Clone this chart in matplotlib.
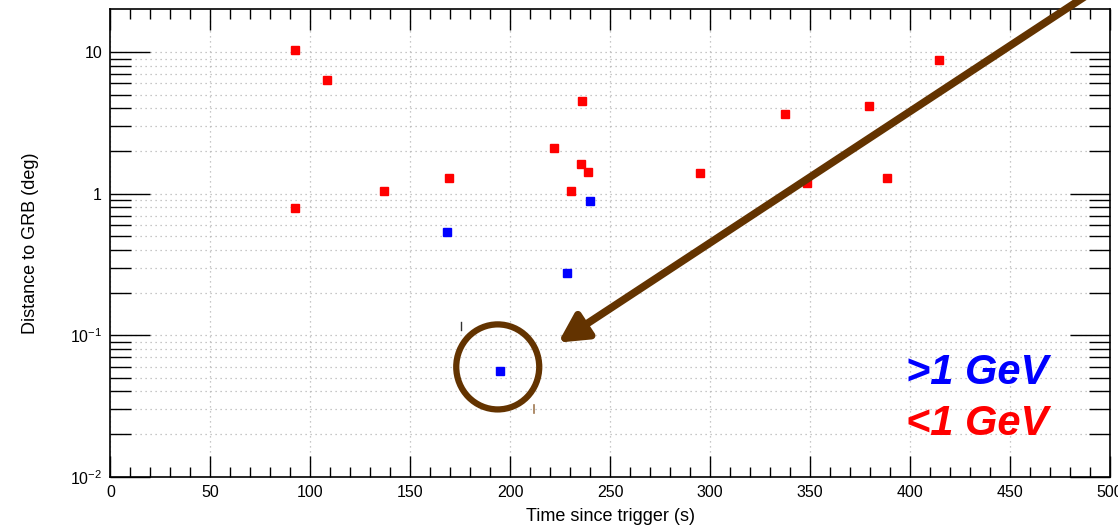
import matplotlib
matplotlib.use("Agg")
import matplotlib.pyplot as plt
from matplotlib.patches import Ellipse
from matplotlib.ticker import FixedLocator, MultipleLocator, NullFormatter, FuncFormatter

plt.rcParams['font.family'] = ['Liberation Sans', 'DejaVu Sans']

# photons below 1 GeV
t_low = [92.3, 108.2, 92.3, 137.0, 169.3, 221.8, 236.1, 235.2, 239.1, 230.4,
         294.8, 337.5, 348.3, 379.5, 388.5, 414.4]
d_low = [10.3, 6.4, 0.79, 1.05, 1.29, 2.09, 4.5, 1.63, 1.42, 1.05,
         1.39, 3.67, 1.19, 4.18, 1.28, 8.74]

# photons above 1 GeV
t_high = [168.5, 240.1, 228.6, 194.9]
d_high = [0.54, 0.88, 0.277, 0.0557]

x_ticks = [0, 50, 100, 150, 200, 250, 300, 350, 400, 450, 500]
y_ticks = [0.01, 0.1, 1, 10]
y_labels = {0.01: r'$\mathregular{10^{-2}}$', 0.1: r'$\mathregular{10^{-1}}$', 1: '1', 10: '10'}

fig = plt.figure(figsize=(11.18, 5.26), dpi=100)
ax = fig.add_axes([0.0987, 0.0937, 0.8942, 0.8883])
ax.set_yscale('log')
ax.set_xlim(0, 500)
ax.set_ylim(0.01, 20)

# grid: x at major ticks, y at every decade subdivision
ax.xaxis.set_major_locator(FixedLocator(x_ticks))
ax.xaxis.set_minor_locator(MultipleLocator(10))
ax.yaxis.set_major_locator(FixedLocator(y_ticks))
minor_y = [m * 10.0 ** e for e in (-2, -1, 0, 1) for m in range(2, 10) if m * 10.0 ** e < 20]
ax.yaxis.set_minor_locator(FixedLocator(minor_y))
ax.yaxis.set_major_formatter(FuncFormatter(lambda v, p: y_labels.get(round(v, 4), '')))
ax.yaxis.set_minor_formatter(NullFormatter())

grid_kw = dict(color='#b5b5b5', linestyle=(0, (1, 3)), linewidth=0.9)
ax.grid(True, which='major', axis='x', **grid_kw)
ax.grid(True, which='both', axis='y', **grid_kw)
ax.set_axisbelow(True)

ax.tick_params(axis='x', which='major', direction='in', length=15, width=1.0, top=True, bottom=True,
               labelsize=11.5, pad=6)
ax.tick_params(axis='x', which='minor', direction='in', length=7, width=1.0, top=True, bottom=True)
ax.tick_params(axis='y', which='major', direction='in', length=29, width=1.0, left=True, right=True,
               labelsize=11.5, pad=6)
ax.tick_params(axis='y', which='minor', direction='in', length=15, width=1.0, left=True, right=True)
for s in ax.spines.values():
    s.set_linewidth(1.2)

ax.set_xlabel('Time since trigger (s)', fontsize=13, labelpad=6)
ax.set_ylabel('Distance to GRB (deg)', fontsize=13, labelpad=22)

# small error bars plus square markers
ax.errorbar(t_low, d_low, xerr=2.0, yerr=[[0.0] * len(d_low), [v * 0.06 for v in d_low]],
            fmt='s', color='#ff0000', markersize=6, elinewidth=1, capsize=0, zorder=3)
ax.errorbar(t_high, d_high, xerr=2.0, yerr=[[0.0] * len(d_high), [v * 0.06 for v in d_high]],
            fmt='s', color='#0000ff', markersize=5.5, elinewidth=1, capsize=0, zorder=3)

# legend text
ax.text(0.867, 0.222, '>1 GeV', transform=ax.transAxes, color='#0000ff', fontsize=30,
        fontweight='bold', fontstyle='italic', ha='center', va='center')
ax.text(0.867, 0.112, '<1 GeV', transform=ax.transAxes, color='#ff0000', fontsize=30,
        fontweight='bold', fontstyle='italic', ha='center', va='center')

# highlight of the closest high-energy photon
brown = '#633300'
ax.add_patch(Ellipse((0.3875, 0.235), 0.083, 0.182, transform=ax.transAxes,
                     fill=False, edgecolor=brown, linewidth=4.5, zorder=4))
ax.annotate('', xy=(0.448, 0.287), xycoords='axes fraction',
            xytext=(0.985, 1.042), textcoords='axes fraction',
            arrowprops=dict(arrowstyle='-|>,head_length=1.7,head_width=0.9',
                            color=brown, linewidth=5.5, shrinkA=0, shrinkB=0),
            annotation_clip=False, zorder=5)

# stray pen marks next to the circle
ax.plot([0.351, 0.351], [0.314, 0.331], transform=ax.transAxes, color='#333333', lw=1, zorder=4)
ax.plot([0.424, 0.424], [0.136, 0.153], transform=ax.transAxes, color='#a07850', lw=1.2, zorder=4)

fig.savefig('out.png', dpi=100)
